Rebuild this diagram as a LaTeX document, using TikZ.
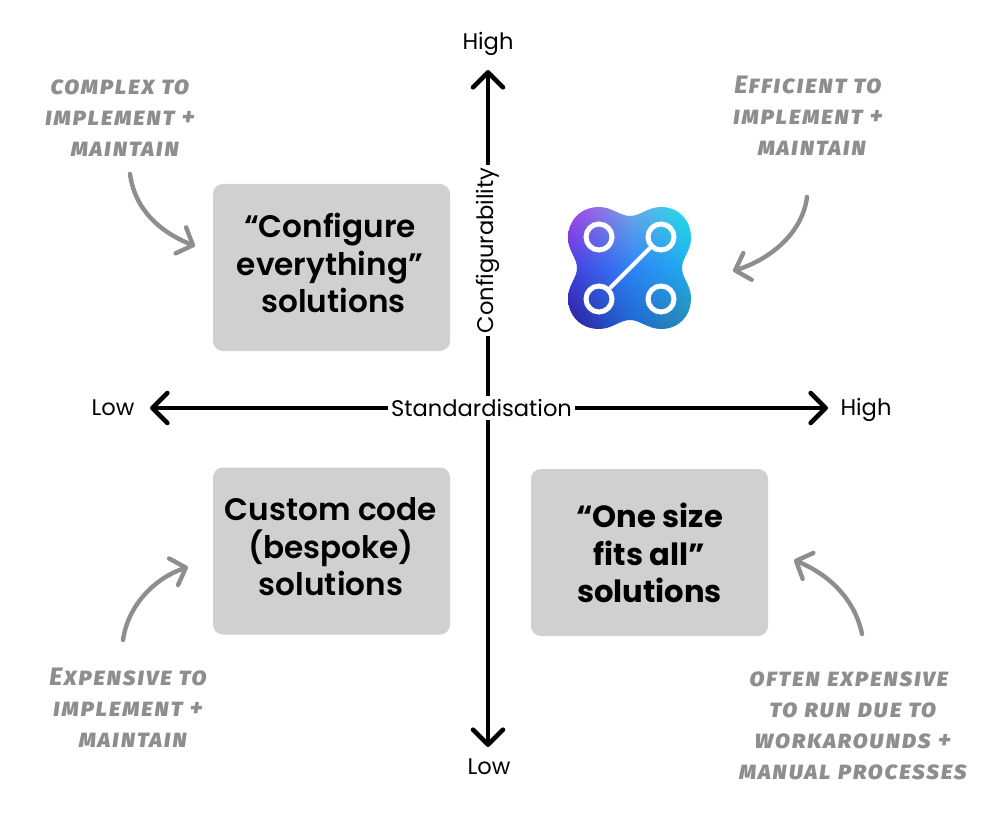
\documentclass[tikz,border=0pt]{standalone}
\usepackage{fontspec}
\usetikzlibrary{arrows.meta,shadings}
\setmainfont{Poppins}
\newfontfamily\titlefont{Poppins}[UprightFont={* SemiBold}]
\newfontfamily\titlebold{Poppins}[UprightFont={* Bold}]
\newfontfamily\handfont{Fira Sans}[UprightFont={* ExtraBold Italic},Letters=SmallCaps,LetterSpace=6]
\definecolor{boxgrey}{HTML}{D0D0D0}
\definecolor{notegrey}{HTML}{8E8E8E}
\tikzset{
  box/.style={fill=boxgrey,rounded corners=10pt,minimum width=237pt,minimum height=167pt,inner sep=0pt},
  boxtext/.style={align=center,inner sep=0pt,font=\titlefont\fontsize{31.1}{37.5}\selectfont},
  boxtextb/.style={align=center,inner sep=0pt,font=\titlebold\fontsize{30.6}{37.5}\selectfont},
  axis/.style={line width=4.6pt,line cap=round,black,{Straight Barb[length=15pt,width=30pt,line width=4.6pt,round]}-{Straight Barb[length=15pt,width=30pt,line width=4.6pt,round]}},
  axlabel/.style={font=\fontsize{22.6}{24}\selectfont,inner sep=0pt},
  axname/.style={font=\fontsize{22.6}{24}\selectfont,fill=white,inner sep=3pt},
  note/.style={font=\handfont\fontsize{25.2}{31}\selectfont,text=notegrey,align=center,inner sep=0pt},
  notearrow/.style={line width=4.4pt,notegrey,line cap=round,-{Straight Barb[length=13pt,width=28pt,line width=4.4pt,round]}},
  ring/.style={circle,draw=white,line width=5pt,minimum size=26pt,inner sep=0pt}
}
\begin{document}
\begin{tikzpicture}[x=1pt,y=-1pt]
\useasboundingbox (0,0) rectangle (1000,834);
\fill[white] (0,0) rectangle (1000,834);
% boxes
\node[box] (cfg) at (331.5,267.5) {};
\node[box] (custom) at (331.5,551) {};
\node[box] (one) at (649.5,552.5) {};
\node[boxtext] (cfgt) at (330,263) {“Configure\\everything”\\\hspace*{7pt}solutions};
\node[boxtext] (customt) at (331,547) {Custom code\\(bespoke)\\solutions};
\node[boxtextb] (onet) at (649.5,553) {“One size\\fits all”\\solutions};
% axes
\coordinate (vt) at (488,70); \coordinate (vb) at (488,747);
\coordinate (hl) at (150,408); \coordinate (hr) at (828,408);
\draw[axis] (vb) -- (vt);
\draw[axis] (hl) -- (hr);
\node[axname,rotate=90] (cname) at (488,250.5) {Configurability};
\node[axname] (sname) at (481.5,408) {Standardisation};
\node[axlabel] (hightop) at (488,44) {High};
\node[axlabel] (lowbot) at (489,767) {Low};
\node[axlabel] (lowleft) at (113,408) {Low};
\node[axlabel] (highright) at (866,410) {High};
% logo
\begin{scope}
\clip (630,216) .. controls (620,216) and (612,207) .. (599,207)
  .. controls (581,207) and (568,220) .. (568,238)
  .. controls (568,251) and (577,258) .. (577,268)
  .. controls (577,278) and (568,285) .. (568,298)
  .. controls (568,316) and (581,329) .. (599,329)
  .. controls (612,329) and (620,320) .. (630,320)
  .. controls (640,320) and (648,329) .. (661,329)
  .. controls (679,329) and (691,316) .. (691,298)
  .. controls (691,285) and (682,278) .. (682,268)
  .. controls (682,258) and (691,251) .. (691,238)
  .. controls (691,220) and (679,207) .. (661,207)
  .. controls (648,207) and (640,216) .. (630,216) -- cycle;
\definecolor{ga}{RGB}{180,60,235}\definecolor{gb}{RGB}{115,165,230}\definecolor{gc}{RGB}{25,232,232}
\definecolor{gd}{RGB}{70,60,220}\definecolor{ge}{RGB}{45,130,245}\definecolor{gf}{RGB}{30,175,240}
\definecolor{gg}{RGB}{40,25,150}\definecolor{gh}{RGB}{30,100,205}\definecolor{gi}{RGB}{40,140,170}
\shade[upper left=ga,upper right=gb,lower left=gd,lower right=ge] (566,205) rectangle (630.4,268.4);
\shade[upper left=gb,upper right=gc,lower left=ge,lower right=gf] (630,205) rectangle (693,268.4);
\shade[upper left=gd,upper right=ge,lower left=gg,lower right=gh] (566,268) rectangle (630.4,331);
\shade[upper left=ge,upper right=gf,lower left=gh,lower right=gi] (630,268) rectangle (693,331);
\end{scope}
\node[ring] (n1) at (599,237) {};
\node[ring] (n2) at (661,237) {};
\node[ring] (n3) at (599,299) {};
\node[ring] (n4) at (661,299) {};
\draw[white,line width=4pt] (n3) -- (n2);
% notes
\node[note] (ncomplex) at (120,118) {complex to\\implement +\\\hspace*{10pt}maintain};
\node[note] (nefficient) at (808,116) {Efficient to\\implement +\\\hspace*{8pt}maintain};
\node[note] (nexpensive) at (128,708) {Expensive to\\implement +\\\hspace*{10pt}maintain};
\node[note] (noften) at (853,725.5) {often expensive\hspace*{8pt}\\to run due to\\workarounds +\hspace*{16pt}\\manual processes};
% note arrows
\coordinate (a1s) at (130,174); \coordinate (a1e) at (195,246);
\coordinate (a2s) at (807,197); \coordinate (a2e) at (733,271);
\coordinate (a3s) at (123,640); \coordinate (a3e) at (188,567);
\coordinate (a4s) at (862,634); \coordinate (a4e) at (794,560);
\draw[notearrow] (a1s) .. controls (135,210) and (160,232) .. (a1e);
\draw[notearrow] (a2s) .. controls (802,235) and (768,260) .. (a2e);
\draw[notearrow] (a3s) .. controls (128,605) and (155,578) .. (a3e);
\draw[notearrow] (a4s) .. controls (855,600) and (830,575) .. (a4e);
\end{tikzpicture}
\end{document}
